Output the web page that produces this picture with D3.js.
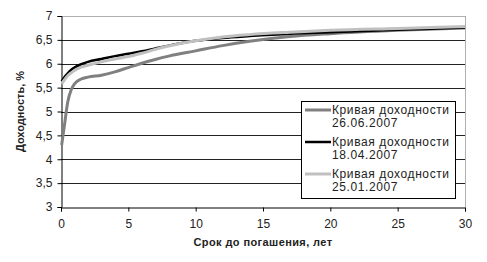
<!DOCTYPE html>
<html>
  <head>
    <meta charset="utf-8">
    <script src="https://cdn.jsdelivr.net/npm/d3@7"></script>
    <style>
      body { margin: 0; background: white; }
      svg { display: block; font-family: "Liberation Sans", Arial, sans-serif; }
    </style>
  </head>
  <body>
    <script>
      // сроки до погашения, лет
      const terms = [0.05, 0.25, 0.5, 0.75, 1, 1.5, 2, 3, 4, 5, 6, 7, 8, 10, 12, 14, 17, 20, 25, 30]
      // доходности, %
      const yields260607 = [4.3, 4.7, 5.2, 5.45, 5.58, 5.68, 5.72, 5.76, 5.83, 5.92, 6.01, 6.09, 6.16, 6.27, 6.38, 6.47, 6.57, 6.63, 6.70, 6.75]
      const yields180407 = [5.63, 5.72, 5.80, 5.87, 5.92, 5.99, 6.04, 6.10, 6.16, 6.21, 6.26, 6.32, 6.38, 6.48, 6.54, 6.58, 6.63, 6.66, 6.71, 6.76]
      const yields250107 = [5.58, 5.66, 5.75, 5.81, 5.86, 5.93, 5.97, 6.04, 6.10, 6.15, 6.22, 6.30, 6.37, 6.48, 6.56, 6.61, 6.66, 6.70, 6.74, 6.78]
      const seriesNames = ['Кривая доходности 26.06.2007', 'Кривая доходности 18.04.2007', 'Кривая доходности 25.01.2007']
      const xTicks = [0, 5, 10, 15, 20, 25, 30]
      const yTicks = [3, 3.5, 4, 4.5, 5, 5.5, 6, 6.5, 7]

      const series = [
        {name: seriesNames[0], values: yields260607, color: '#808080', width: 3},
        {name: seriesNames[1], values: yields180407, color: '#000000', width: 2.5},
        {name: seriesNames[2], values: yields250107, color: '#c0c0c0', width: 3}
      ]

      const W = 487, H = 262
      const svg = d3.select('body').append('svg').attr('width', W).attr('height', H)

      const x = d3.scaleLinear().domain([0, 30]).range([61, 465])
      const y = d3.scaleLinear().domain([3, 7]).range([207, 16])
      const fmt = d => String(d).replace('.', ',')

      // сетка
      svg.append('g').selectAll('line')
        .data(yTicks.filter(d => d > 3))
        .join('line')
        .attr('x1', x(0)).attr('x2', x(30))
        .attr('y1', d => Math.round(y(d)) + 0.5).attr('y2', d => Math.round(y(d)) + 0.5)
        .attr('stroke', d => d === 7 ? '#b0b0b0' : '#222')
        .attr('stroke-width', 1)

      // правая граница области
      svg.append('line')
        .attr('x1', Math.round(x(30)) + 0.5).attr('x2', Math.round(x(30)) + 0.5)
        .attr('y1', y(7)).attr('y2', y(3))
        .attr('stroke', '#b0b0b0')

      const xAxis = svg.append('g')
        .attr('transform', `translate(0,${Math.round(y(3)) + 0.5})`)
        .call(d3.axisBottom(x).tickValues(xTicks).tickSize(4).tickPadding(8).tickFormat(fmt))
      const yAxis = svg.append('g')
        .attr('transform', `translate(${Math.round(x(0)) + 0.5},0)`)
        .call(d3.axisLeft(y).tickValues(yTicks).tickSize(4).tickPadding(5).tickFormat(fmt))
      for (const ax of [xAxis, yAxis]) {
        ax.select('.domain').attr('stroke', '#000')
        ax.selectAll('.tick line').attr('stroke', '#000')
        ax.selectAll('text').attr('font-size', 12).attr('fill', '#222')
          .attr('font-family', '"Liberation Sans", Arial, sans-serif')
      }

      const line = d3.line()
        .x((d, i) => x(terms[i]))
        .y(d => y(d))
        .curve(d3.curveMonotoneX)

      ;[series[0], series[1], series[2]].forEach(s => {
        svg.append('path')
          .attr('d', line(s.values))
          .attr('fill', 'none')
          .attr('stroke', s.color)
          .attr('stroke-width', s.width)
          .attr('stroke-linejoin', 'round')
      })

      // легенда
      const lg = svg.append('g').attr('transform', 'translate(301,101)')
      lg.append('rect')
        .attr('x', 0.5).attr('y', 0.5).attr('width', 154).attr('height', 97)
        .attr('fill', 'white').attr('stroke', '#000')
      series.forEach((s, i) => {
        const g = lg.append('g').attr('transform', `translate(0,${i * 32})`)
        g.append('line')
          .attr('x1', 4).attr('x2', 30).attr('y1', 9).attr('y2', 9)
          .attr('stroke', s.color).attr('stroke-width', s.width)
        const words = s.name.split(' ')
        g.append('text').attr('x', 31).attr('y', 13).attr('font-size', 12).attr('fill', '#222')
          .attr('letter-spacing', 0.6)
          .text(words.slice(0, 2).join(' '))
        g.append('text').attr('x', 31).attr('y', 26).attr('font-size', 12).attr('fill', '#222')
          .attr('letter-spacing', 0.6)
          .text(words[2])
      })

      // подписи осей
      svg.append('text')
        .attr('x', (x(0) + x(30)) / 2).attr('y', 246)
        .attr('text-anchor', 'middle').attr('font-size', 11).attr('font-weight', 'bold').attr('fill', '#222')
        .attr('letter-spacing', 0.4)
        .text('Срок до погашения, лет')
      svg.append('text')
        .attr('transform', `translate(24,${(y(3) + y(7)) / 2}) rotate(-90)`)
        .attr('text-anchor', 'middle').attr('font-size', 11).attr('font-weight', 'bold').attr('fill', '#222')
        .text('Доходность, %')
    </script>
  </body>
</html>
